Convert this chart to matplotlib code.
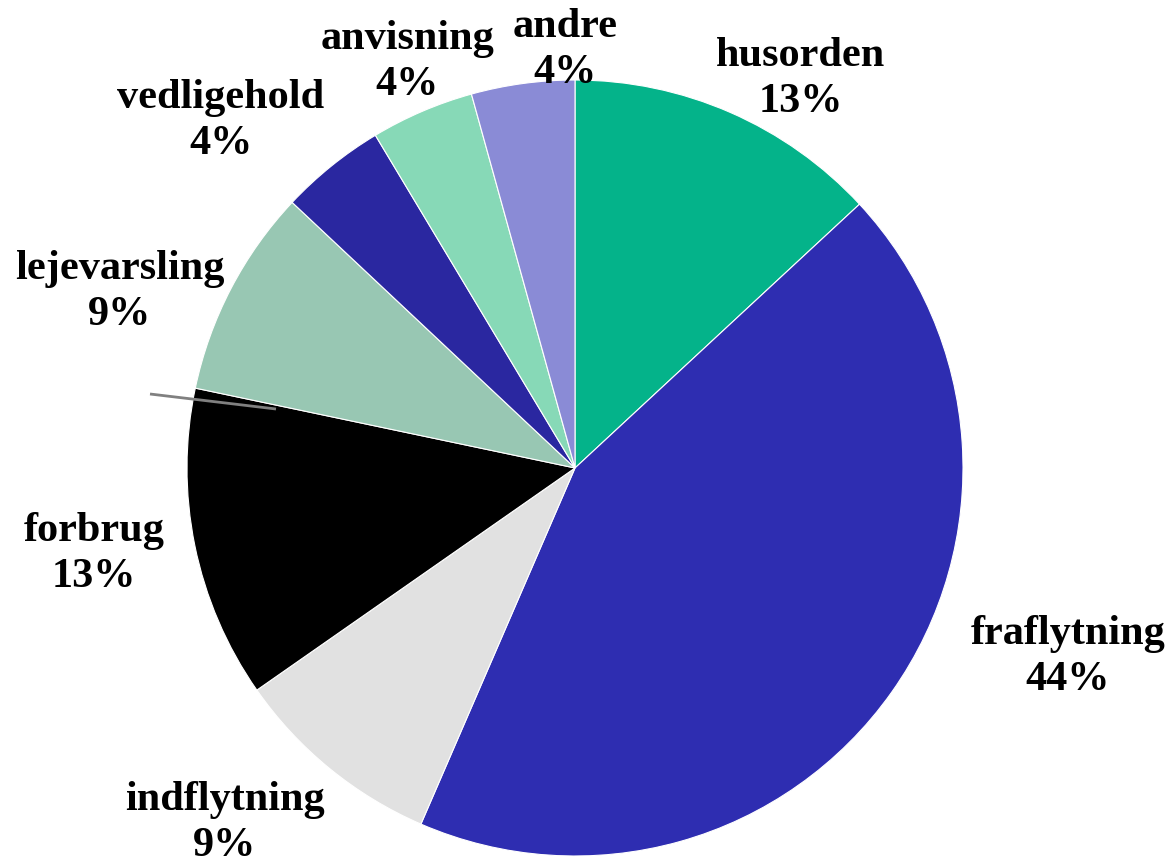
import matplotlib
matplotlib.use("Agg")
import matplotlib.pyplot as plt

categories = ["husorden", "fraflytning", "indflytning", "forbrug",
              "lejevarsling", "vedligehold", "anvisning", "andre"]
values = [13.1, 43.4, 8.8, 13.0, 8.7, 4.4, 4.3, 4.3]
pct_labels = ["13%", "44%", "9%", "13%", "9%", "4%", "4%", "4%"]
colors = ["#04B38A", "#2E2DB1", "#E1E1E1", "#000000",
          "#98C7B3", "#2A27A0", "#87D9B7", "#8A8BD6"]

W, H = 1173, 867
fig = plt.figure(figsize=(W / 100, H / 100), dpi=100)
ax = fig.add_axes([0, 0, 1, 1])

cx, cy, R = 575, H - 468, 388
ax.pie(values, colors=colors, startangle=90, counterclock=False,
       center=(cx, cy), radius=R, frame=True,
       wedgeprops=dict(edgecolor="white", linewidth=0.8))
ax.set_xlim(0, W)
ax.set_ylim(0, H)
ax.set_aspect("equal")
ax.axis("off")

# label block centres (pixel coordinates from top-left)
label_pos = [(801, 79), (1068, 657), (225, 823), (94, 554),
             (120, 292), (221, 121), (407, 62), (565, 50)]

for name, pct, (px, py) in zip(categories, pct_labels, label_pos):
    ax.text(px, H - py, f"{name}\n{pct}", ha="center", va="center",
            fontsize=30.4, fontweight="bold", family="Liberation Serif",
            linespacing=1.25, color="black")

# leader line near forbrug
ax.plot([150, 276], [H - 394, H - 409], color="#808080", lw=2,
        solid_capstyle="butt")

fig.savefig("out.png", dpi=100)
